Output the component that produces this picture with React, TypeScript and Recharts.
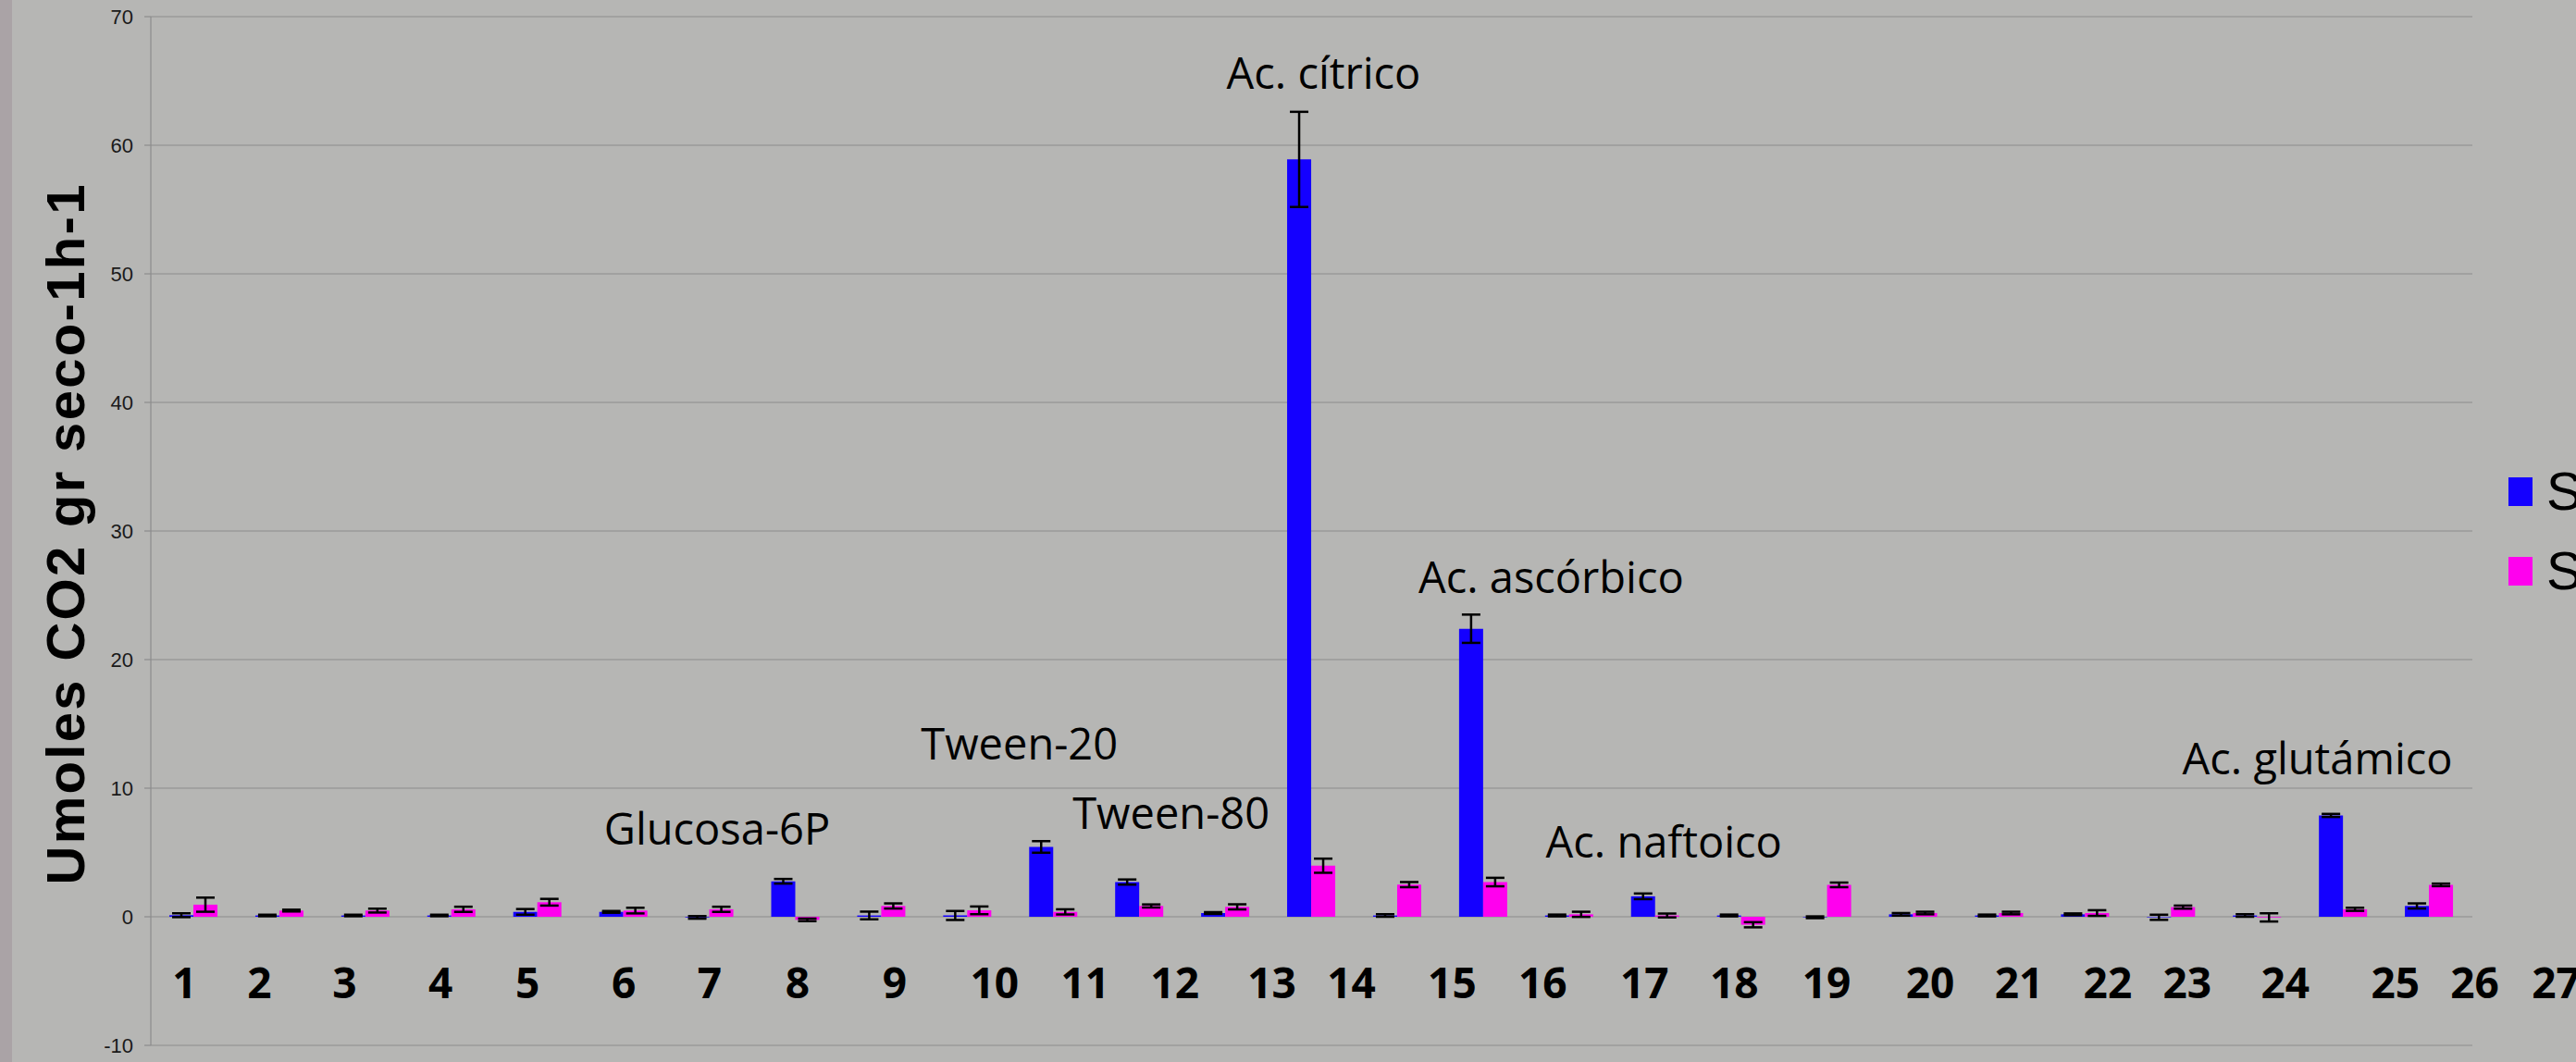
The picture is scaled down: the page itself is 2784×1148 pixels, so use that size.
import { BarChart, Bar, XAxis, YAxis, CartesianGrid, ErrorBar, ReferenceDot } from 'recharts'

const categories = ['1', '2', '3', '4', '5', '6', '7', '8', '9', '10', '11', '12', '13', '14', '15', '16', '17', '18', '19', '20', '21', '22', '23', '24', '25', '26', '27']
const serie1 = [0.12, 0.1, 0.1, 0.1, 0.38, 0.38, -0.05, 2.76, 0.1, 0.1, 5.43, 2.7, 0.29, 58.9, 0.1, 22.4, 0.1, 1.59, 0.1, -0.04, 0.19, 0.1, 0.19, -0.04, 0.1, 7.88, 0.84]
const serie1Err = [0.15, 0.06, 0.06, 0.06, 0.22, 0.07, 0.1, 0.18, 0.3, 0.35, 0.45, 0.2, 0.07, 3.7, 0.1, 1.1, 0.07, 0.22, 0.07, 0.07, 0.1, 0.07, 0.07, 0.2, 0.1, 0.12, 0.2]
const serie2 = [0.94, 0.48, 0.48, 0.58, 1.13, 0.48, 0.58, -0.24, 0.84, 0.5, 0.38, 0.84, 0.77, 3.97, 2.5, 2.7, 0.19, 0.1, -0.62, 2.48, 0.29, 0.29, 0.29, 0.75, -0.05, 0.58, 2.48]
const serie2Err = [0.55, 0.07, 0.15, 0.2, 0.26, 0.22, 0.2, 0.1, 0.2, 0.3, 0.2, 0.12, 0.2, 0.55, 0.2, 0.33, 0.2, 0.15, 0.2, 0.18, 0.1, 0.1, 0.22, 0.12, 0.32, 0.12, 0.1]
const seriesNames = ['Serie1', 'Serie2']
const yTicks = [-10, 0, 10, 20, 30, 40, 50, 60, 70]

// annotations: category they refer to, height (axis units) of the text baseline
const noteCats = ['8', '11', '12', '14', '16', '18', '26']
const noteLevels = [5.6, 12.2, 6.8, 64.4, 25.2, 4.6, 11.1]
const noteTexts = ['Glucosa-6P', 'Tween-20', 'Tween-80', 'Ac. cítrico', 'Ac. ascórbico', 'Ac. naftoico', 'Ac. glutámico']

// layout tweaks (px), not data
const noteDx = [-85, -37, 34, 13, 73, 9, -28]
const tickShift = [-10, -22, -23, -12, -11, 0, 0, 2, 14, 29, 34, 38, 50, 43, 59, 64, 81, 85, 92, 111, 114, 117, 110, 123, 149, 142, 137]

const BLUE = '#1400ff'
const PINK = '#ff00ee'
const GRID = '#8c8c8c'
const COLORS = [BLUE, PINK]

const chartData = categories.map((name, i) => ({
  name,
  s1: serie1[i],
  e1: serie1Err[i],
  s2: serie2[i],
  e2: serie2Err[i],
}))

function CatTick(props: any) {
  const { x, y, payload } = props
  const i = categories.indexOf(String(payload.value))
  return (
    <text x={x + (tickShift[i] ?? 0)} y={y - 51} textAnchor="middle" fontFamily="'Open Sans', sans-serif" fontWeight={700} fontSize={46} fill="#000">
      {payload.value}
    </text>
  )
}

function YTitle() {
  return (
    <text transform="translate(91,578) rotate(-90)" textAnchor="middle" fontFamily="'Liberation Sans', Arial, sans-serif" fontWeight={700} fontSize={58} fill="#000" textLength={757} lengthAdjust="spacing">
      Umoles CO2 gr seco-1h-1
    </text>
  )
}

export default function App() {
  return (
    <div style={{ position: 'fixed', left: 0, top: 0, width: 2784, height: 1148, overflow: 'hidden', background: '#b6b6b4' }}>
      <div style={{ position: 'absolute', left: 0, top: 0, width: 13, height: 1148, background: '#aaa3a6' }} />
      <BarChart width={2784} height={1148} data={chartData} margin={{ top: 18, right: 112, bottom: 17, left: 0 }} barCategoryGap={20} barGap={0}>
        <CartesianGrid vertical={false} stroke={GRID} strokeWidth={1.2} />
        <XAxis dataKey="name" height={1} axisLine={false} tickLine={false} tickSize={0} tickMargin={0} interval={0} tick={<CatTick />} />
        <YAxis
          domain={[-10, 70]}
          ticks={yTicks}
          width={163}
          tickSize={7}
          tickMargin={12}
          axisLine={{ stroke: GRID, strokeWidth: 1.2 }}
          tickLine={{ stroke: GRID, strokeWidth: 1.2 }}
          tick={{ fontFamily: "'Liberation Sans', Arial, sans-serif", fontSize: 22, fill: '#1a1a1a' }}
          label={<YTitle />}
        />
        <Bar dataKey="s1" name={seriesNames[0]} fill={BLUE} isAnimationActive={false}>
          <ErrorBar dataKey="e1" width={10} strokeWidth={2.5} stroke="#000" />
        </Bar>
        <Bar dataKey="s2" name={seriesNames[1]} fill={PINK} isAnimationActive={false}>
          <ErrorBar dataKey="e2" width={10} strokeWidth={2.5} stroke="#000" />
        </Bar>
        {noteCats.map((cat, i) => (
          <ReferenceDot
            key={noteTexts[i]}
            x={cat}
            y={noteLevels[i]}
            r={0}
            shape={(p: any) => (
              <text x={p.cx + noteDx[i]} y={p.cy} textAnchor="middle" fontFamily="'Open Sans', sans-serif" fontSize={47} fill="#000">
                {noteTexts[i]}
              </text>
            )}
          />
        ))}
      </BarChart>
      <div style={{ position: 'absolute', left: 2711, top: 488, whiteSpace: 'nowrap' }}>
        {seriesNames.map((name, i) => (
          <div key={name} style={{ display: 'flex', alignItems: 'center', height: 86 }}>
            <span style={{ width: 26, height: 31, background: COLORS[i], display: 'inline-block' }} />
            <span style={{ marginLeft: 15, fontFamily: "'Liberation Sans Narrow', 'Liberation Sans', sans-serif", fontSize: 58, lineHeight: '86px', color: '#000' }}>
              {name}
            </span>
          </div>
        ))}
      </div>
    </div>
  )
}
